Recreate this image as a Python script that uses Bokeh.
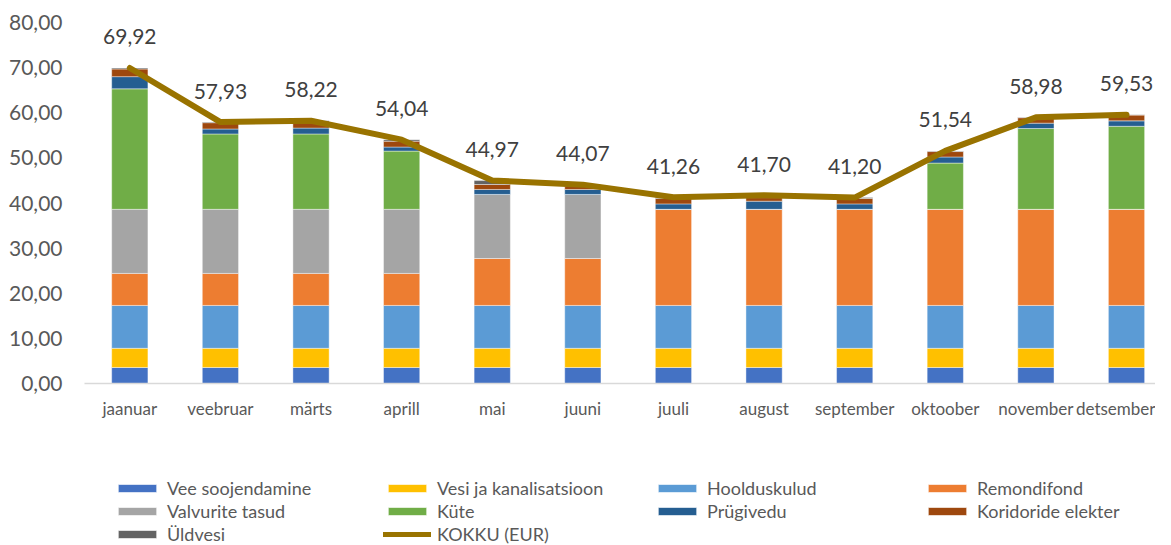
from bokeh.plotting import figure
from bokeh.models import ColumnDataSource, Range1d, FixedTicker, Legend, LegendItem, Grid
from bokeh.layouts import column
from bokeh.core.properties import value
from bokeh.embed import file_html
from bokeh.resources import INLINE

months = ["jaanuar", "veebruar", "märts", "aprill", "mai", "juuni", "juuli",
          "august", "september", "oktoober", "november", "detsember"]
vee_soojendamine = [3.55, 3.55, 3.55, 3.55, 3.55, 3.55, 3.55, 3.55, 3.55, 3.55, 3.55, 3.55]
vesi_kanal = [4.25, 4.25, 4.25, 4.25, 4.25, 4.25, 4.25, 4.25, 4.25, 4.25, 4.25, 4.25]
hoolduskulud = [9.5, 9.5, 9.5, 9.5, 9.5, 9.5, 9.5, 9.5, 9.5, 9.5, 9.5, 9.5]
remondifond = [7.1, 7.1, 7.1, 7.1, 10.4, 10.4, 21.3, 21.3, 21.3, 21.3, 21.3, 21.3]
valvurite = [14.2, 14.2, 14.2, 14.2, 14.2, 14.2, 0, 0, 0, 0, 0, 0]
kute = [26.7, 16.7, 16.7, 12.9, 0, 0, 0, 0, 0, 10.25, 17.9, 18.4]
prugivedu = [2.7, 1.1, 1.3, 0.9, 1.1, 1.1, 1.2, 1.8, 1.2, 1.35, 1.2, 1.2]
koridoride = [1.7, 1.4, 1.2, 1.3, 1.1, 0.7, 1.2, 0.8, 1.2, 1.2, 1.2, 1.3]
uldvesi = [0.2, 0.13, 0.42, 0.34, 0.87, 0.37, 0.26, 0.5, 0.2, 0.14, 0.08, 0.03]
kokku = [69.92, 57.93, 58.22, 54.04, 44.97, 44.07, 41.26, 41.70, 41.20, 51.54, 58.98, 59.53]
y_ticks = [0, 10, 20, 30, 40, 50, 60, 70, 80]

series_names = ["Vee soojendamine", "Vesi ja kanalisatsioon", "Hoolduskulud", "Remondifond",
                "Valvurite tasud", "Küte", "Prügivedu", "Koridoride elekter", "Üldvesi"]
series_keys = ["s0", "s1", "s2", "s3", "s4", "s5", "s6", "s7", "s8"]
colors = ["#4472C4", "#FFC000", "#5B9BD5", "#ED7D31", "#A5A5A5", "#70AD47",
          "#255E91", "#9E480E", "#636363"]
line_color = "#997300"

FONT = "Lato"
TXT = "#595959"
W = 1155

xs = list(range(len(months)))
data = dict(x=xs, kokku=kokku, lbl=[f"{v:.2f}".replace(".", ",") for v in kokku])
for k, arr in zip(series_keys, [vee_soojendamine, vesi_kanal, hoolduskulud, remondifond,
                                valvurite, kute, prugivedu, koridoride, uldvesi]):
    data[k] = arr
src = ColumnDataSource(data)

p = figure(width=W, height=440, output_backend="svg", toolbar_location=None,
           x_range=Range1d(-0.5, 11.32), y_range=Range1d(0, 80),
           min_border_left=84, min_border_right=0, min_border_top=22, min_border_bottom=57)
p.outline_line_color = None
p.xgrid.grid_line_color = None
p.ygrid.grid_line_color = None

bars = p.vbar_stack(series_keys, x="x", width=0.4, color=colors, source=src,
                    line_color="white", line_width=0.6, line_alpha=0.7)
ln = p.line("x", "kokku", source=src, line_width=6, line_color=line_color,
            line_join="round", line_cap="round")
p.text("x", "kokku", text="lbl", source=src, y_offset=-31, text_align="center",
       text_baseline="middle", text_font=value(FONT), text_font_size="21px",
       text_color="#404040")

p.yaxis.ticker = FixedTicker(ticks=y_ticks)
p.yaxis.major_label_overrides = {t: f"{t:.2f}".replace(".", ",") for t in y_ticks}
p.yaxis.axis_line_color = None
p.yaxis.major_tick_line_color = None
p.yaxis.minor_tick_line_color = None
p.yaxis.major_label_standoff = 16
p.yaxis.major_label_text_font = FONT
p.yaxis.major_label_text_font_size = "21px"
p.yaxis.major_label_text_color = TXT

p.xaxis.ticker = FixedTicker(ticks=xs)
p.xaxis.major_label_overrides = {i: m for i, m in zip(xs, months)}
p.xaxis.axis_line_color = "#D9D9D9"
p.xaxis.axis_line_width = 1.5
p.xaxis.major_tick_line_color = None
p.xaxis.minor_tick_line_color = None
p.xaxis.major_label_standoff = 8
p.xaxis.major_label_text_font = FONT
p.xaxis.major_label_text_font_size = "17px"
p.xaxis.major_label_text_color = TXT

# legend figure
lg = figure(width=W, height=105, output_backend="svg", toolbar_location=None,
            x_axis_location=None, y_axis_location=None,
            x_range=Range1d(0, 1), y_range=Range1d(0, 1),
            min_border_left=0, min_border_right=0, min_border_top=0, min_border_bottom=0)
lg.outline_line_color = None
lg.center = [c for c in lg.center if not isinstance(c, Grid)]
items = []
for n, c in zip(series_names, colors):
    r = lg.vbar(x=[0.5], top=[-5], bottom=[-6], width=0.4, color=c,
                line_color="white", line_width=0.6)
    items.append(LegendItem(label=n, renderers=[r]))
rl = lg.line(x=[0.4, 0.6], y=[-5, -5], line_width=5, line_color=line_color, line_cap="round")
items.append(LegendItem(label="KOKKU (EUR)", renderers=[rl]))
legend = Legend(items=items, ncols=4, orientation="horizontal", location=(29, 0),
                glyph_width=48, glyph_height=10, label_standoff=6, label_width=215,
                label_height=18, spacing=1, padding=0, margin=0,
                border_line_alpha=0, background_fill_alpha=0,
                label_text_font=FONT, label_text_font_size="18px", label_text_color=TXT)
lg.add_layout(legend)

open("out.html", "w").write(file_html(column(p, lg), INLINE))
